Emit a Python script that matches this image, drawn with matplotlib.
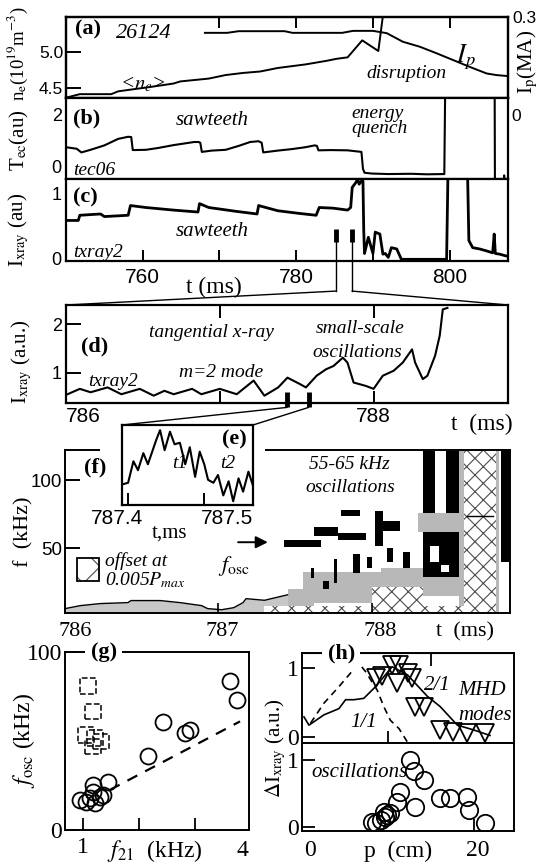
import matplotlib
matplotlib.use('Agg')
import matplotlib.pyplot as plt
from matplotlib.patches import Rectangle, ConnectionPatch

SERIF = 'Liberation Serif'
SANS = 'Liberation Sans'
plt.rcParams['font.family'] = [SERIF, 'DejaVu Serif']
plt.rcParams['mathtext.fontset'] = 'stix'
plt.rcParams['hatch.linewidth'] = 0.8
plt.rcParams['hatch.color'] = '0.3'

# ---------------- data ----------------
# (a) line-averaged density and plasma current
ne_t = [750, 751.8, 755.9, 756.8, 759.5, 760.9, 764.0, 764.9, 768.6, 770.8, 773.1, 775.3,
        777.6, 781.2, 783.9, 785.3, 786.7, 788.6, 790.7, 791.4]
ne_v = [4.36, 4.41, 4.41, 4.45, 4.49, 4.51, 4.56, 4.59, 4.63, 4.68, 4.71, 4.73,
        4.78, 4.83, 4.88, 4.91, 4.93, 5.17, 5.02, 5.60]
ip_t = [768.1, 771.0, 772.5, 778.5, 779.5, 786.0, 787.4, 790.0, 791.8, 793.9, 796.1,
        798.3, 800.4, 802.6, 804.8, 806.1, 807.6]
ip_v = [0.252, 0.252, 0.257, 0.257, 0.252, 0.252, 0.258, 0.258, 0.251, 0.225, 0.210,
        0.190, 0.170, 0.149, 0.129, 0.124, 0.121]

# (b) ECE electron temperature tec06
tec_t = [750, 751.4, 752, 753.2, 755, 756.8, 758.1, 758.5, 758.7, 760.4, 762, 764, 766.7,
         767.3, 767.5, 767.7, 769, 770.8, 772.5, 774, 775.1, 775.5, 775.7, 777.6, 779.5,
         781.2, 782.4, 782.7, 782.9, 784.5, 786.7, 788.5, 788.7, 788.9, 789.8, 792, 795,
         797, 799.3, 799.45, 805.85, 805.9, 807.0, 807.1, 807.2]
tec_v = [0.73, 0.67, 0.53, 0.63, 0.80, 1.05, 1.13, 1.12, 0.62, 0.63, 0.70, 0.81, 0.93,
         0.93, 0.90, 0.55, 0.60, 0.63, 0.78, 0.93, 0.96, 0.90, 0.53, 0.60, 0.66,
         0.73, 0.80, 0.78, 0.61, 0.62, 0.61, 0.55, -0.10, -0.25, -0.28, -0.30, -0.29,
         -0.31, -0.30, 4.0, 4.0, -1.0, -1.0, -0.35, -1.0]

# (c) tangential x-ray txray2
tx_t = [750.2, 751.6, 751.8, 754.5, 755.0, 758.1, 758.4, 760.4, 764.0, 767.2, 767.4, 768.6,
        772.2, 774.9, 775.1, 777.6, 780.3, 782.6, 783.0, 784.8, 786.7, 787.1, 787.3, 787.8,
        788.0, 788.2, 788.5, 788.7, 788.8, 788.9, 789.4, 790.0, 790.3, 790.9, 791.3, 791.6,
        792.0, 792.4, 793.1, 793.7, 799.6, 799.8, 802.3, 802.5, 803.0, 803.9, 804.8, 805.6,
        805.8, 805.95, 806.5, 807.4, 807.6]
tx_v = [0.59, 0.59, 0.67, 0.69, 0.65, 0.67, 0.82, 0.79, 0.75, 0.72, 0.85, 0.79,
        0.73, 0.69, 0.82, 0.74, 0.70, 0.67, 0.79, 0.78, 0.75, 0.79, 1.10, 1.18,
        1.23, 1.15, 1.20, 1.20, 0.43, 0.08, 0.33, 0.08, 0.41, 0.38, 0.07, 0.08,
        0.02, 0.17, 0.15, -0.01, -0.01, 1.50, 1.50, 0.28, 0.17, 0.15, 0.12, 0.09,
        0.38, 0.08, 0.07, 0.04, 0.05]
win_c = [785.23, 787.27]

# (d) zoomed x-ray
d_t = [786.01, 786.09, 786.16, 786.27, 786.36, 786.48, 786.57, 786.64, 786.70, 786.82,
       786.88, 787.0, 787.11, 787.22, 787.29, 787.38, 787.44, 787.52, 787.56, 787.63,
       787.69, 787.74, 787.80, 787.83, 787.87, 787.95, 788.0, 788.06, 788.13, 788.19,
       788.25, 788.27, 788.32, 788.35, 788.40, 788.43, 788.45, 788.48]
d_v = [0.56, 0.67, 0.60, 0.70, 0.56, 0.67, 0.53, 0.63, 0.56, 0.67,
       0.56, 0.67, 0.56, 0.84, 0.53, 0.70, 0.90, 0.77, 0.70, 0.94,
       1.07, 1.14, 1.31, 1.21, 0.80, 0.73, 0.67, 0.94, 1.04, 1.21,
       1.48, 1.21, 0.87, 0.94, 1.35, 1.76, 2.30, 2.33]
win_d = [787.438, 787.578]

# (e) inset
e_t = [787.393, 787.400, 787.407, 787.413, 787.420, 787.426, 787.437, 787.442, 787.448,
       787.455, 787.461, 787.468, 787.475, 787.481, 787.488, 787.494, 787.500, 787.505,
       787.512, 787.518, 787.525, 787.532, 787.538, 787.545, 787.551, 787.558, 787.564]
e_v = [0.25, 0.27, 0.56, 0.44, 0.67, 0.52, 0.85, 0.98, 0.71, 0.96, 0.79, 0.81, 0.52, 0.75,
       0.35, 0.69, 0.52, 0.31, 0.27, 0.375, 0.10, 0.29, 0.02, 0.33, 0.15, 0.42, 0.23]

# (f) spectrogram, simplified as regions (t0, t1, f0, f1)
low_t = [786.0, 786.1, 786.23, 786.41, 786.43, 786.51, 786.62, 786.75, 786.89, 786.93,
         787.02, 787.1, 787.16, 787.18, 787.3, 787.45]
low_f = [5.9, 8.1, 9.6, 10.3, 11.8, 11.8, 11.8, 10.3, 8.1, 5.9, 5.1, 6.6, 10.3, 13.2, 12, 16]
spec_gray = [(787.45, 787.62, 8, 20), (787.55, 788.06, 10, 33), (788.06, 788.33, 20, 36),
             (788.30, 788.58, 62, 76), (788.57, 788.6, 2.7, 122), (788.81, 788.83, 2.7, 122),
             (788.33, 788.57, 15, 29)]
spec_black = [(787.43, 787.67, 51, 56), (787.62, 787.78, 59, 66), (787.78, 787.96, 56, 61),
              (787.80, 787.92, 74, 78), (788.02, 788.07, 52, 77), (788.05, 788.18, 63, 70),
              (788.33, 788.41, 76, 121), (788.48, 788.57, 76, 121), (788.33, 788.57, 29, 62),
              (788.84, 788.9, 40, 122), (787.60, 787.62, 28, 36), (787.75, 787.77, 25, 42),
              (787.88, 787.92, 32, 46), (787.97, 788.0, 36, 44), (787.68, 787.72, 20, 26),
              (788.1, 788.14, 40, 50), (788.2, 788.25, 36, 47)]
spec_white = [(788.38, 788.44, 40, 52), (788.45, 788.5, 33, 38)]
spec_hatch = [(787.3, 788.6, 2.7, 8), (788.0, 788.33, 2.7, 22), (788.6, 788.81, 2.7, 122)]

# (g) f_osc vs f_21
g_x = [3.63, 3.75, 2.43, 2.82, 2.91, 2.16, 1.45, 1.18, 0.94, 1.06, 1.21, 1.30, 1.18, 1.12, 1.36]
g_y = [83.9, 73.2, 60.9, 54.4, 56.3, 41.7, 27.2, 25.3, 16.9, 15.9, 15.0, 18.8, 21.6, 17.8, 19.7]
gs_x = [1.09, 1.18, 1.06, 1.22, 1.33, 1.18]
gs_y = [80.7, 66.6, 53.5, 51.6, 49.7, 46.9]
gfit_x = [1.48, 3.81]
gfit_y = [22.5, 61.0]

# (h) radial profiles
h21_p = [0.23, 0.81, 2.56, 4.3, 5.08, 6.05, 7.2, 8.57, 10.5, 12.3, 14.6, 16.1, 18.1, 20.0, 21.9]
h21_v = [0.29, 0.17, 0.32, 0.41, 0.54, 0.54, 0.56, 0.73, 1.02, 0.90, 0.59, 0.44, 0.17, 0.10, 0.02]
h11_p = [1.0, 2.56, 4.3, 6.63, 7.4, 8.76, 9.53, 10.3, 11.3, 12.25]
h11_v = [0.20, 0.49, 0.73, 1.07, 0.95, 0.68, 0.44, 0.24, 0.12, -0.07]
tri_p = [8.57, 9.35, 10.5, 11.3, 11.1, 12.3, 12.8, 13.2, 14.2, 16.1, 17.6, 19.2, 21.3]
tri_v = [0.85, 0.89, 1.05, 1.05, 0.78, 0.93, 0.85, 0.44, 0.44, 0.10, 0.07, 0.06, 0.06]
osc_p = [8.2, 8.57, 9.15, 9.7, 9.5, 9.9, 10.3, 11.05, 11.4, 13.2, 12.6, 13.0, 14.2, 16.1,
         17.2, 19.2, 19.4, 21.3]
osc_v = [0.075, 0.06, 0.10, 0.15, 0.225, 0.175, 0.20, 0.375, 0.525, 0.30, 1.0, 0.825, 0.70,
         0.425, 0.425, 0.45, 0.25, 0.05]

# ---------------- figure ----------------
W, H = 544, 865
fig = plt.figure(figsize=(W / 100, H / 100), dpi=100)


def box(x0, y0, x1, y1):
    return [x0 / W, 1 - y1 / H, (x1 - x0) / W, (y1 - y0) / H]


def ftxt(x, y, s, **kw):
    kw.setdefault('ha', 'center')
    kw.setdefault('va', 'center')
    return fig.text(x / W, 1 - y / H, s, **kw)


def spines(ax, lw=1.6):
    for s in ax.spines.values():
        s.set_linewidth(lw)


IT = dict(style='italic', family=SERIF)
BD = dict(weight='bold', family=SERIF, fontsize=16)

# (a)
ax_a = fig.add_axes(box(66, 17, 508, 97.7))
ax_a.plot(ne_t, ne_v, 'k', lw=1.4)
ax_a.set_xlim(750, 807.6)
ax_a.set_ylim(4.36, 5.5)
ax_a.set_yticks([4.5, 5.0], ['4.5', '5.0'])
ax_a.tick_params(axis='y', direction='in', length=11, width=1.4, labelsize=12.5,
                 labelfontfamily=SANS, pad=2)
ax_a.set_xticks([770, 780, 790, 800])
ax_a.tick_params(axis='x', direction='in', top=True, bottom=False, labelbottom=False,
                 length=8, width=1.4)
spines(ax_a)
ax_ip = ax_a.twinx()
ax_ip.plot(ip_t, ip_v, 'k', lw=1.4)
ax_ip.set_ylim(0.0555, 0.3)
ax_ip.set_yticks([0.3], ['0.3'])
ax_ip.tick_params(axis='y', length=0, labelsize=12.5, labelfontfamily=SANS, pad=3)
ax_ip.text(1.008, 0.0, '0', transform=ax_ip.get_yaxis_transform(), ha='left', va='center',
           fontsize=12.5, family=SANS, clip_on=False)
spines(ax_ip)
ax_a.text(0.02, 0.85, '(a)', transform=ax_a.transAxes, va='center', ha='left', **BD)
ax_a.text(0.113, 0.8, '26124', transform=ax_a.transAxes, va='center', ha='left', fontsize=16, **IT)
ax_a.text(0.175, 0.17, r'<$n_e$>', transform=ax_a.transAxes, va='center', ha='center', fontsize=15, **IT)
ax_a.text(0.905, 0.50, r'$I_p$', transform=ax_a.transAxes, va='center', ha='center', fontsize=19)
ax_a.text(0.77, 0.30, 'disruption', transform=ax_a.transAxes, va='center', ha='center', fontsize=14, **IT)

# (b)
ax_b = fig.add_axes(box(66, 97.7, 508, 179))
ax_b.plot(tec_t, tec_v, 'k', lw=1.5)
ax_b.set_xlim(750, 807.6)
ax_b.set_ylim(-0.49, 2.63)
ax_b.set_xticks([])
ax_b.set_yticks([0, 2], ['0', '2'])
ax_b.tick_params(axis='y', length=0, labelsize=13, labelfontfamily=SANS, pad=3)
spines(ax_b)
ax_b.text(0.016, 0.75, '(b)', transform=ax_b.transAxes, va='center', ha='left', **BD)
ax_b.text(0.33, 0.72, 'sawteeth', transform=ax_b.transAxes, va='center', ha='center', fontsize=15, **IT)
ax_b.text(0.705, 0.81, 'energy', transform=ax_b.transAxes, va='center', ha='center', fontsize=14, **IT)
ax_b.text(0.71, 0.62, 'quench', transform=ax_b.transAxes, va='center', ha='center', fontsize=14, **IT)
ax_b.text(0.016, 0.11, 'tec06', transform=ax_b.transAxes, va='center', ha='left', fontsize=14, **IT)

# (c)
ax_c = fig.add_axes(box(66, 179, 508, 261))
ax_c.plot(tx_t, tx_v, 'k', lw=2.0)
ax_c.set_xlim(750, 807.6)
ax_c.set_ylim(-0.036, 1.23)
ax_c.set_yticks([0, 1], ['0', '1'])
ax_c.tick_params(axis='y', length=0, labelsize=13, labelfontfamily=SANS, pad=3)
ax_c.set_xticks([760, 770, 780, 790, 800], ['760', '', '780', '', '800'])
ax_c.tick_params(axis='x', direction='in', length=8, width=1.4, labelsize=15,
                 labelfontfamily=SANS, pad=5)
spines(ax_c)
ax_c.text(0.016, 0.77, '(c)', transform=ax_c.transAxes, va='center', ha='left', **BD)
ax_c.text(0.33, 0.36, 'sawteeth', transform=ax_c.transAxes, va='center', ha='center', fontsize=15, **IT)
ax_c.text(0.016, 0.10, 'txray2', transform=ax_c.transAxes, va='center', ha='left', fontsize=14, **IT)
for t in win_c:
    ax_c.plot([t, t], [0.256, 0.46], 'k', lw=3.5, solid_capstyle='butt', clip_on=False)
    ax_c.plot([t, t], [0.256, -0.5], 'k', lw=1.0, clip_on=False)

# (d)
ax_d = fig.add_axes(box(66, 305, 508, 403))
ax_d.plot(d_t, d_v, 'k', lw=1.5)
ax_d.set_xlim(786, 788.874)
ax_d.set_ylim(0.38, 2.39)
ax_d.set_yticks([1, 2], ['1', '2'])
ax_d.tick_params(axis='y', direction='in', length=11, width=1.4, labelsize=13,
                 labelfontfamily=SANS, pad=3)
ax_d.set_xticks([786, 787, 788], ['786', '', '788'])
ax_d.tick_params(axis='x', direction='in', top=True, length=9, width=1.4, labelsize=15,
                 labelfontfamily=SANS, pad=3)
ax_d.get_xticklabels()[0].set_ha('left')
spines(ax_d)
ax_d.text(0.034, 0.58, '(d)', transform=ax_d.transAxes, va='center', ha='left', **BD)
ax_d.text(0.33, 0.72, 'tangential x-ray', transform=ax_d.transAxes, va='center', ha='center', fontsize=14, **IT)
ax_d.text(0.665, 0.765, 'small-scale', transform=ax_d.transAxes, va='center', ha='center', fontsize=14, **IT)
ax_d.text(0.66, 0.515, 'oscillations', transform=ax_d.transAxes, va='center', ha='center', fontsize=14, **IT)
ax_d.text(0.35, 0.31, 'm=2 mode', transform=ax_d.transAxes, va='center', ha='center', fontsize=14, **IT)
ax_d.text(0.05, 0.22, 'txray2', transform=ax_d.transAxes, va='center', ha='left', fontsize=14, **IT)
for t in win_d:
    ax_d.plot([t, t], [0.29, 0.60], 'k', lw=3.5, solid_capstyle='butt', clip_on=False)

# connectors (c) -> (d)
fig.add_artist(ConnectionPatch((win_c[0], -0.5), (0, 1), coordsA=ax_c.transData,
                               coordsB=ax_d.transAxes, lw=1.0, color='k'))
fig.add_artist(ConnectionPatch((win_c[1], -0.5), (1, 1), coordsA=ax_c.transData,
                               coordsB=ax_d.transAxes, lw=1.0, color='k'))

# (f)
ax_f = fig.add_axes(box(65, 450, 510, 613))
ax_f.set_xlim(786, 788.9)
ax_f.set_ylim(2.7, 122)
ax_f.fill_between(low_t, 2.7, low_f, color='0.78', lw=0)
ax_f.plot(low_t, low_f, 'k', lw=1.0)
for (t0, t1, f0, f1) in spec_gray:
    ax_f.add_patch(Rectangle((t0, f0), t1 - t0, f1 - f0, fc='0.72', ec='none'))
for (t0, t1, f0, f1) in spec_hatch:
    ax_f.add_patch(Rectangle((t0, f0), t1 - t0, f1 - f0, fc='white', ec='0.3', lw=0,
                             hatch='xx'))
for (t0, t1, f0, f1) in spec_black:
    ax_f.add_patch(Rectangle((t0, f0), t1 - t0, f1 - f0, fc='k', ec='none'))
for (t0, t1, f0, f1) in spec_white:
    ax_f.add_patch(Rectangle((t0, f0), t1 - t0, f1 - f0, fc='white', ec='none'))
ax_f.plot([788.62, 788.79], [73.7, 73.7], 'k', lw=1.0)
ax_f.add_patch(Rectangle((786.08, 26), 0.14, 17, fc='white', ec='0.3', lw=0, hatch='x'))
ax_f.add_patch(Rectangle((786.08, 26), 0.14, 17, fc='none', ec='k', lw=1.3))
ax_f.text(786.26, 41, 'offset at', va='center', ha='left', fontsize=14, **IT)
ax_f.text(786.26, 27, r'0.005$P_{max}$', va='center', ha='left', fontsize=14, **IT)
ax_f.text(787.1, 37, r'$f_\mathrm{osc}$', va='center', ha='center', fontsize=16)
ax_f.annotate('', xy=(787.34, 54.5), xytext=(787.11, 54.5),
              arrowprops=dict(arrowstyle='-|>', color='k', lw=1.4, mutation_scale=18))
ax_f.text(0.64, 0.91, '55-65 kHz', transform=ax_f.transAxes, va='center', ha='center', fontsize=14, **IT)
ax_f.text(0.64, 0.77, 'oscillations', transform=ax_f.transAxes, va='center', ha='center', fontsize=14, **IT)
ax_f.text(0.067, 0.89, '(f)', transform=ax_f.transAxes, va='center', ha='center', **BD)
ax_f.set_yticks([50, 100], ['50', '100'])
ax_f.tick_params(axis='y', direction='in', length=11, width=1.4, labelsize=13.5,
                 labelfontfamily=SANS, pad=2)
ax_f.set_xticks([786, 787, 788], ['', '', ''])
ax_f.tick_params(axis='x', direction='in', length=7, width=1.2)
spines(ax_f, 1.4)
ftxt(75, 632, '786', fontsize=16)
ftxt(222, 632, '787', fontsize=16)
ftxt(380, 632, '788', fontsize=16)
ftxt(465, 632, 't  (ms)', fontsize=16)

# white margin round the inset
fig.add_artist(Rectangle(((100) / W, 1 - 456 / H), 165 / W, 16 / H, transform=fig.transFigure,
                         fc='white', ec='none', zorder=1))

# (e) inset
ax_e = fig.add_axes(box(122, 425, 253, 505))
ax_e.set_zorder(2)
ax_e.plot(e_t, e_v, 'k', lw=1.5)
ax_e.set_xlim(787.392, 787.564)
ax_e.set_ylim(-0.03, 1.05)
ax_e.set_yticks([])
ax_e.set_xticks([787.4, 787.5], ['', ''])
ax_e.tick_params(axis='x', direction='in', length=9, width=1.4)
spines(ax_e)
ax_e.text(0.86, 0.82, '(e)', transform=ax_e.transAxes, va='center', ha='center', **BD)
ax_e.text(0.44, 0.52, 't1', transform=ax_e.transAxes, va='center', ha='center', fontsize=14, **IT)
ax_e.text(0.81, 0.52, 't2', transform=ax_e.transAxes, va='center', ha='center', fontsize=14, **IT)
ftxt(117, 519, '787.4', fontsize=15, family=SANS)
ftxt(227, 519, '787.5', fontsize=15, family=SANS)
ftxt(170, 533, 't,ms', fontsize=15)
fig.add_artist(ConnectionPatch((win_d[0], 0.29), (0, 1), coordsA=ax_d.transData,
                               coordsB=ax_e.transAxes, lw=1.0, color='k', zorder=3))
fig.add_artist(ConnectionPatch((win_d[1], 0.29), (1, 1), coordsA=ax_d.transData,
                               coordsB=ax_e.transAxes, lw=1.0, color='k', zorder=3))

# (g)
ax_g = fig.add_axes(box(65, 652, 249, 830))
ax_g.plot(g_x, g_y, 'o', mfc='none', mec='k', ms=11.5, mew=1.3)
ax_g.scatter(gs_x, gs_y, marker='s', s=130, facecolors='none', edgecolors='k',
             linewidths=1.1, linestyles='--')
ax_g.plot(gfit_x, gfit_y, 'k--', lw=1.6, dashes=(5, 4))
ax_g.set_xlim(0.68, 3.97)
ax_g.set_ylim(0, 100)
ax_g.set_xticks([1, 2, 3], ['1', '', ''])
ax_g.tick_params(axis='x', direction='in', length=9, width=1.3, labelsize=17, pad=5)
ax_g.set_yticks([0, 100], ['0', '100'])
ax_g.tick_params(axis='y', direction='in', length=9, width=1.3, labelsize=17, pad=2)
spines(ax_g, 1.4)
ax_g.text(0.21, 1.0, '(g)', transform=ax_g.transAxes, va='center', ha='center',
          bbox=dict(fc='white', ec='none', pad=4), **BD)
ftxt(242, 850, '4', fontsize=17)
ftxt(155, 851, r'$f_\mathrm{21}$  (kHz)', fontsize=17)
ftxt(24, 740, r'$f_\mathrm{osc}$ (kHz)', fontsize=17, rotation=90)

# (h)
ax_h1 = fig.add_axes(box(302, 653, 514, 743))
ax_h1.plot(h21_p, h21_v, 'k', lw=1.2)
ax_h1.plot(h11_p, h11_v, 'k--', lw=1.2, dashes=(4, 3))
ax_h1.plot(tri_p, tri_v, 'v', mfc='none', mec='k', ms=13, mew=1.3)
ax_h1.set_xlim(0, 24.7)
ax_h1.set_ylim(-0.09, 1.22)
ax_h1.set_xticks([10])
ax_h1.tick_params(axis='x', direction='in', length=9, width=1.3, labelbottom=False)
ax_h1.set_yticks([0, 1], ['0', '1'])
ax_h1.tick_params(axis='y', direction='in', length=9, width=1.3, labelsize=17, pad=2)
sec = ax_h1.secondary_xaxis('top')
sec.set_xticks([15])
sec.tick_params(direction='in', length=9, width=1.3, labeltop=False)
spines(ax_h1, 1.4)
ax_h1.text(0.185, 1.0, '(h)', transform=ax_h1.transAxes, va='center', ha='center',
           bbox=dict(fc='white', ec='none', pad=4), **BD)
ax_h1.text(0.64, 0.64, '2/1', transform=ax_h1.transAxes, va='center', ha='center', fontsize=15, **IT)
ax_h1.text(0.85, 0.58, 'MHD', transform=ax_h1.transAxes, va='center', ha='center', fontsize=15, **IT)
ax_h1.text(0.865, 0.31, 'modes', transform=ax_h1.transAxes, va='center', ha='center', fontsize=15, **IT)
ax_h1.text(0.29, 0.23, '1/1', transform=ax_h1.transAxes, va='center', ha='center', fontsize=15, **IT)

ax_h2 = fig.add_axes(box(302, 743, 514, 831))
ax_h2.plot(osc_p, osc_v, 'o', mfc='none', mec='k', ms=12.5, mew=1.3)
ax_h2.set_xlim(0, 24.7)
ax_h2.set_ylim(-0.065, 1.25)
ax_h2.set_xticks([20], [''])
ax_h2.tick_params(axis='x', direction='in', length=9, width=1.3)
ax_h2.set_yticks([0, 1], ['0', '1'])
ax_h2.tick_params(axis='y', direction='in', length=9, width=1.3, labelsize=17, pad=2)
spines(ax_h2, 1.4)
ax_h2.text(0.045, 0.67, 'oscillations', transform=ax_h2.transAxes, va='center', ha='left', fontsize=15, **IT)
ftxt(310, 850, '0', fontsize=17)
ftxt(478, 850, '20', fontsize=17)
ftxt(398, 851, 'p  (cm)', fontsize=17)
ftxt(276, 748, r'$\Delta$I$_\mathrm{xray}$ (a.u.)', fontsize=15, rotation=90)

# axis titles for top panels
ftxt(18, 54, r'n$_\mathrm{e}$(10$^{19}$m$^{-3}$)', fontsize=13.5, rotation=90)
ftxt(19, 140, r'T$_\mathrm{ec}$(au)', fontsize=15, rotation=90)
ftxt(19, 230, r'I$_\mathrm{xray}$ (au)', fontsize=15, rotation=90)
ftxt(528, 62, r'I$_\mathrm{p}$(MA)', fontsize=15, rotation=90)
ftxt(214, 287, 't (ms)', fontsize=17)
ftxt(22, 362, r'I$_\mathrm{xray}$ (a.u.)', fontsize=15, rotation=90)
ftxt(482, 424, 't  (ms)', fontsize=17)
ftxt(24, 532, 'f  (kHz)', fontsize=16, rotation=90)

fig.savefig('out.png', dpi=100)
